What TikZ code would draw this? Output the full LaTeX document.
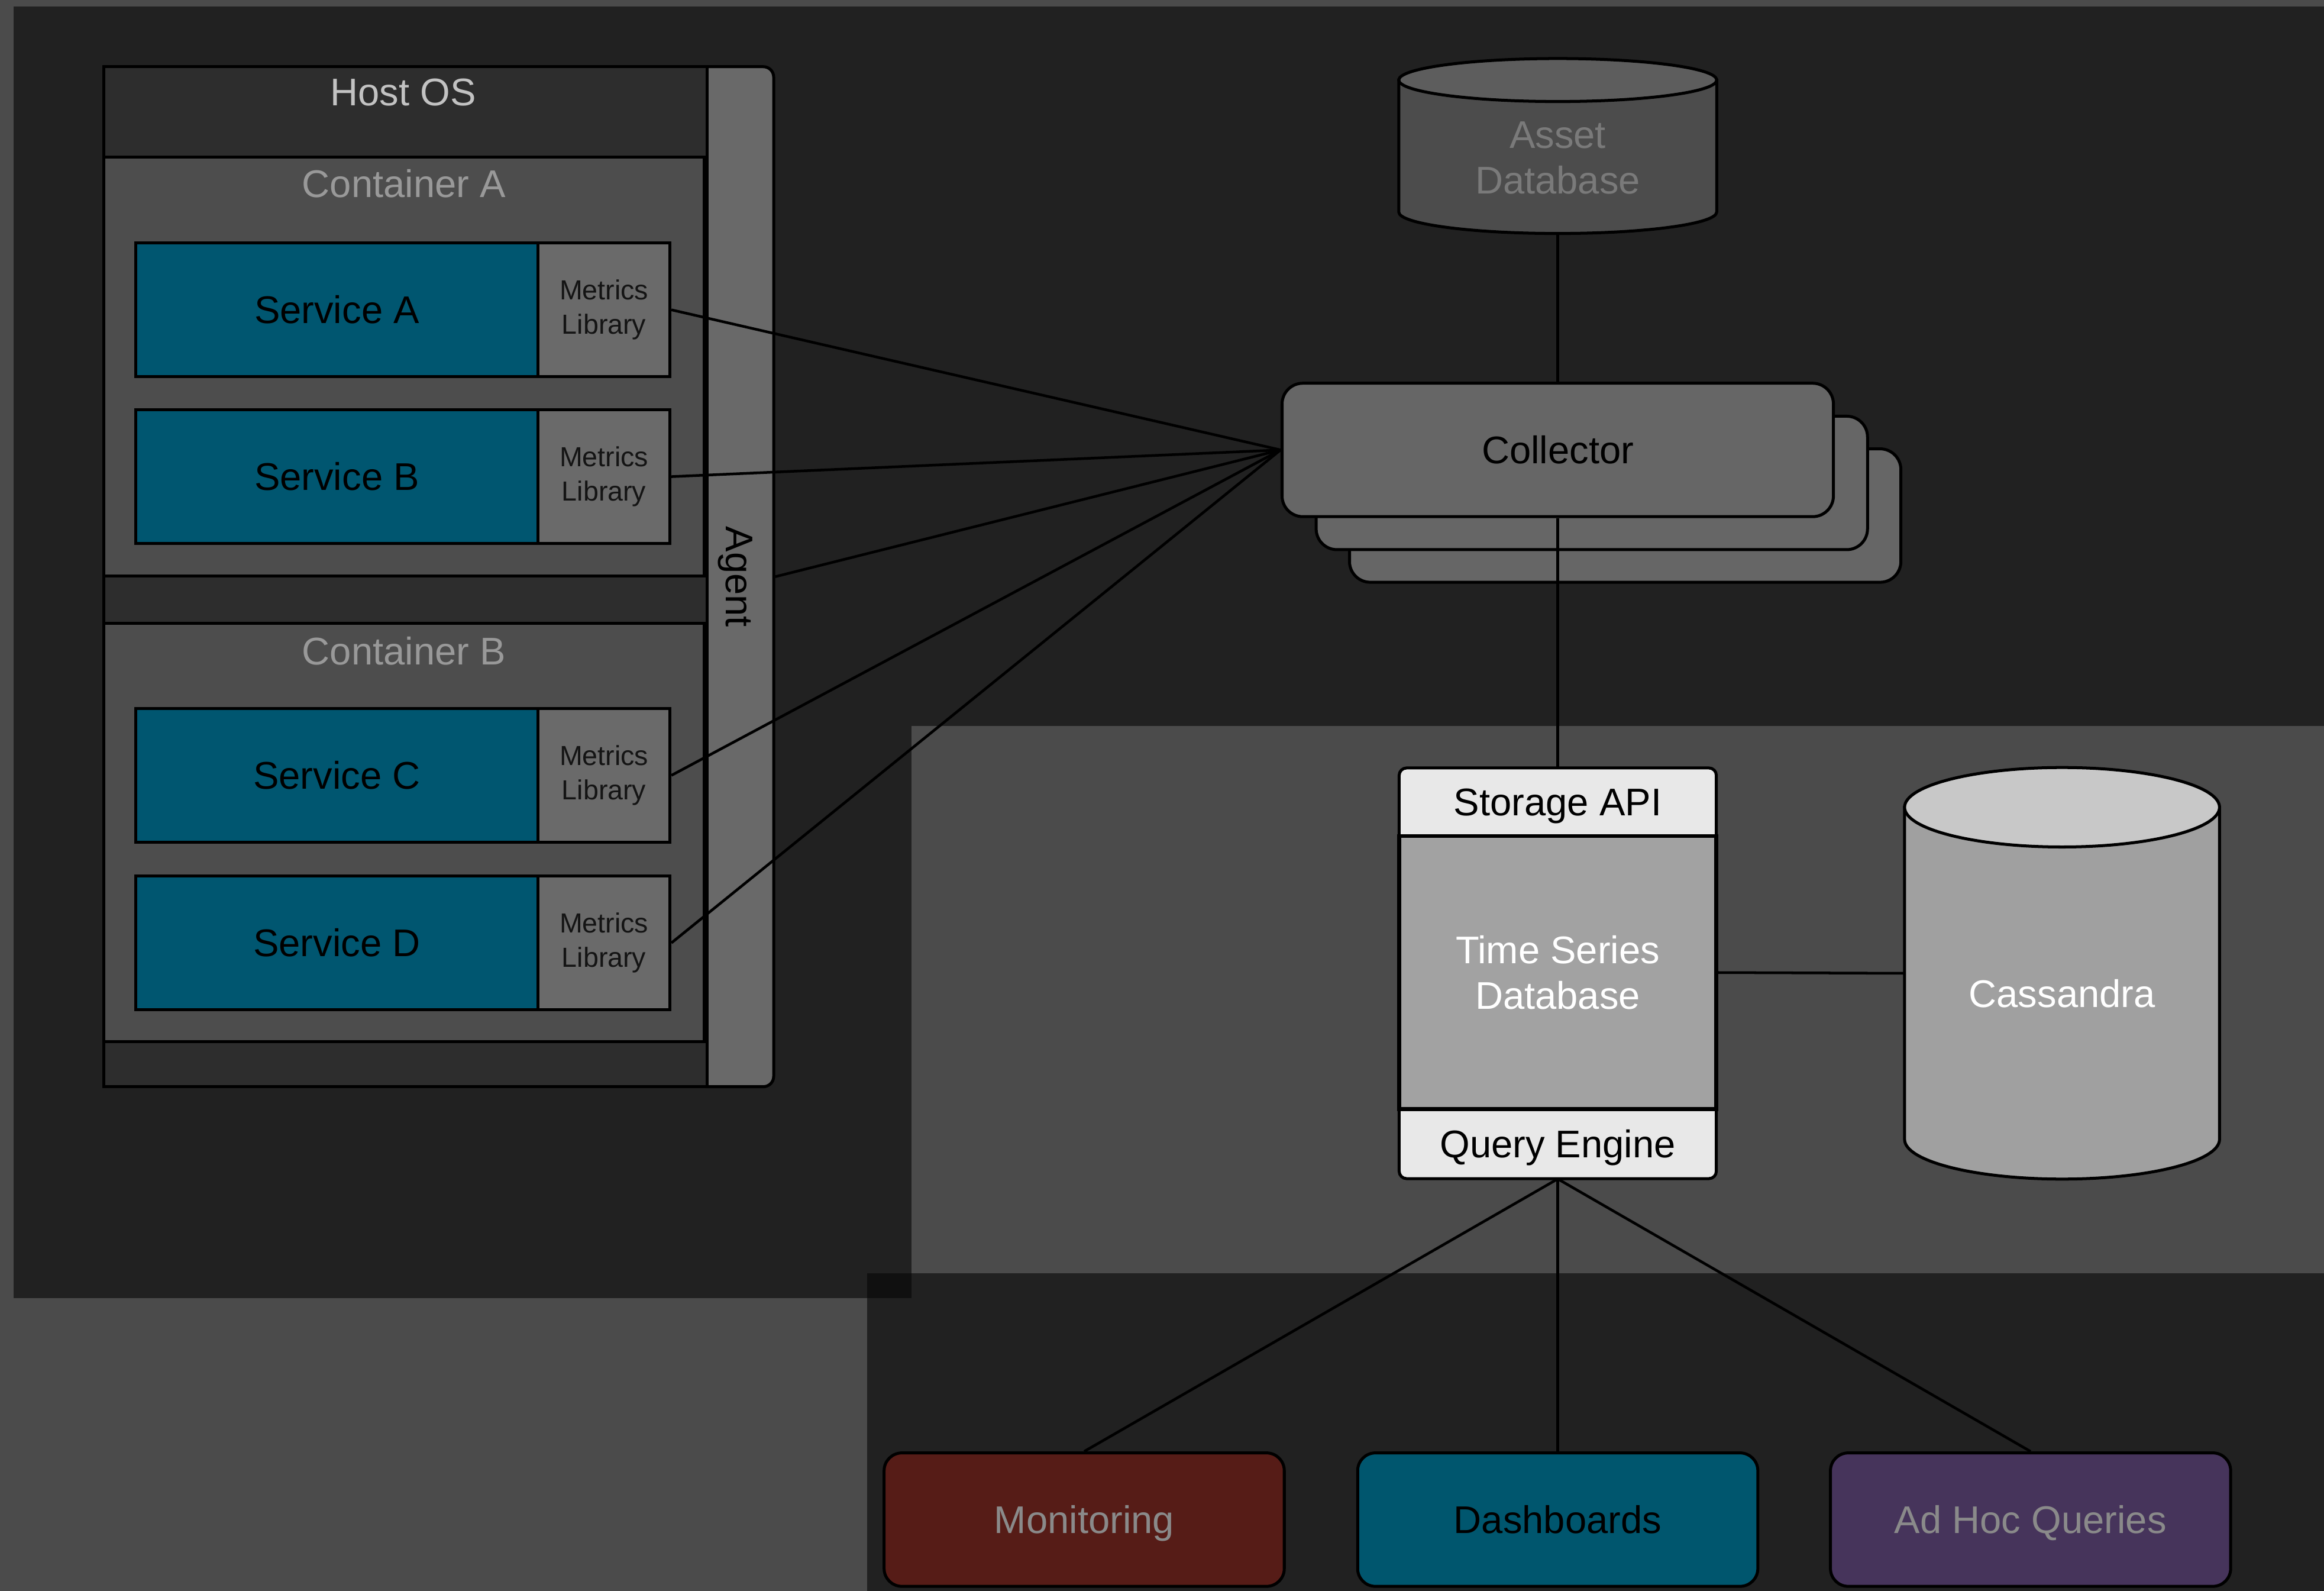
\documentclass[tikz,border=0pt]{standalone}
\usepackage{fontspec}
\setmainfont{Liberation Sans}
\usepackage{graphicx}
\usepackage{tikz}

\definecolor{pagegray}{HTML}{4B4B4B}
\definecolor{panel}{HTML}{212121}
\definecolor{overlap}{HTML}{101010}
\definecolor{hostgray}{HTML}{2D2D2D}
\definecolor{contgray}{HTML}{4D4D4D}
\definecolor{agentgray}{HTML}{696969}
\definecolor{svcteal}{HTML}{005670}
\definecolor{metgray}{HTML}{6A6A6A}
\definecolor{collgray}{HTML}{666666}
\definecolor{assetbody}{HTML}{4C4C4C}
\definecolor{assettop}{HTML}{5D5D5D}
\definecolor{assettext}{HTML}{7A7A7A}
\definecolor{apilight}{HTML}{E8E8E8}
\definecolor{tsdbgray}{HTML}{A2A2A2}
\definecolor{cassbody}{HTML}{A0A0A0}
\definecolor{casstop}{HTML}{C8C8C8}
\definecolor{monred}{HTML}{561C17}
\definecolor{dashteal}{HTML}{00566E}
\definecolor{adhocpurple}{HTML}{46345B}
\definecolor{apptext}{HTML}{8A8A8A}
\definecolor{hosttext}{HTML}{C2C2C2}
\definecolor{conttext}{HTML}{999999}

\tikzset{
  boxline/.style={draw=black, line width=2pt},
  link/.style={draw=black, line width=1.8pt},
  bigtext/.style={font=\fontsize{26}{31}\selectfont, align=center},
  smalltext/.style={font=\fontsize{18.6}{23}\selectfont, align=center},
  capline/.style={text height=18.6pt, text depth=0pt},
  spot/.style={rectangle, inner sep=0pt},
  hostbox/.style={spot, boxline, fill=hostgray, minimum width=407pt, minimum height=688pt},
  agentbox/.style={spot, boxline, fill=agentgray, rounded corners=7pt, bigtext, minimum width=52pt, minimum height=688pt},
  contbox/.style={spot, boxline, fill=contgray, minimum width=405pt, minimum height=282pt},
  svcbox/.style={spot, boxline, fill=svcteal, bigtext, capline, minimum width=271.5pt, minimum height=90pt},
  metbox/.style={spot, boxline, fill=metgray, smalltext, text=black!92, minimum width=89pt, minimum height=90pt},
  collbox/.style={spot, boxline, fill=collgray, rounded corners=14pt, bigtext, capline, minimum width=372pt, minimum height=90pt},
  tsbox/.style={spot, draw=black, line width=2.6pt, fill=tsdbgray, text=white, bigtext, minimum width=214pt, minimum height=184pt},
  apibox/.style={spot, bigtext, capline, minimum width=214pt, minimum height=46pt},
  appbox/.style={spot, boxline, rounded corners=12pt, bigtext, capline, minimum width=270pt, minimum height=90pt}
}

% database drum: centre x, top ellipse y, bottom ellipse y, x radius, y radius, body, lid
\newcommand{\drum}[7]{%
  \draw[boxline, fill=#6] (#1-#4,#2) -- (#1-#4,#3) arc[start angle=180, end angle=360, x radius=#4, y radius=#5] -- (#1+#4,#2) -- cycle;
  \draw[boxline, fill=#7] (#1,#2) ellipse [x radius=#4, y radius=#5];
}

\begin{document}
\begin{tikzpicture}[x=1pt, y=1pt]
\useasboundingbox (0,0) rectangle (1568,1073);
\fill[pagegray] (0,0) rectangle (1568,1073);

% dimmed panels
\fill[panel] (9,197.5) rectangle (615,1068.5);
\fill[panel] (615,583.5) rectangle (1568,1068.5);
\fill[panel] (585,0) rectangle (1568,214);
\fill[overlap] (585,197.5) rectangle (615,214);

% host with agent
\node[agentbox] (agent) at (496,684) {\rotatebox{-90}{Agent}};
\node[hostbox] (host) at (273.5,684) {};
\node[bigtext, capline, text=hosttext] (hostos) at (272,1011) {Host OS};

\node[contbox, minimum height=282.5pt] (contA) at (272.5,825.75) {};
\node[bigtext, capline, text=conttext] (contAlbl) at (272.5,949) {Container A};
\node[contbox] (contB) at (272.5,511.5) {};
\node[bigtext, capline, text=conttext] (contBlbl) at (272.5,634) {Container B};

\node[svcbox] (svcA) at (227.25,864) {Service A};
\node[metbox] (metA) at (407.5,864) {Metrics\\Library};
\node[svcbox] (svcB) at (227.25,751.5) {Service B};
\node[metbox] (metB) at (407.5,751.5) {Metrics\\Library};
\node[svcbox] (svcC) at (227.25,550) {Service C};
\node[metbox] (metC) at (407.5,550) {Metrics\\Library};
\node[svcbox] (svcD) at (227.25,437) {Service D};
\node[metbox] (metD) at (407.5,437) {Metrics\\Library};

% collectors
\node[collbox] (coll3) at (1096.5,725.25) {};
\node[collbox] (coll2) at (1074,747.25) {};
\node[collbox] (collector) at (1051,769.5) {Collector};

% asset database
\drum{1051}{1019}{930}{107.25}{14.5}{assetbody}{assettop}
\node[spot, minimum width=214.5pt, minimum height=118pt] (asset) at (1051,974.5) {};
\node[bigtext, text=assettext] (assetlbl) at (1051,966.5) {Asset\\Database};

% storage
\draw[boxline, fill=apilight, rounded corners=5pt] (944,278) rectangle (1158,555);
\node[tsbox] (tsdb) at (1051,417) {Time Series\\Database};
\node[apibox] (storeapi) at (1051,532) {Storage API};
\node[apibox, minimum height=47pt] (query) at (1051,301.5) {Query Engine};

\drum{1391.25}{528.5}{304.5}{106.25}{26.8}{cassbody}{casstop}
\node[spot, minimum width=212.5pt, minimum height=277.6pt] (cass) at (1391.25,416.5) {};
\node[bigtext, capline, text=white] (casslbl) at (1391.25,403) {Cassandra};

% consumers
\node[appbox, fill=monred, text=apptext] (mon) at (731.5,48) {Monitoring};
\node[appbox, fill=dashteal] (dash) at (1051,48) {Dashboards};
\node[appbox, fill=adhocpurple, text=apptext] (adhoc) at (1370,48) {Ad Hoc Queries};

% links
\draw[link] (metA.east) -- (collector.west);
\draw[link] (metB.east) -- (collector.west);
\draw[link] (agent.east) -- (collector.west);
\draw[link] (metC.east) -- (collector.west);
\draw[link] (metD.east) -- (collector.west);
\draw[link] (asset.south) -- (collector.north);
\draw[link] (collector.south) -- (storeapi.north);
\draw[link] (tsdb.east) -- (cass.west);
\draw[link] (query.south) -- (mon.north);
\draw[link] (query.south) -- (dash.north);
\draw[link] (query.south) -- (adhoc.north);
\end{tikzpicture}
\end{document}
